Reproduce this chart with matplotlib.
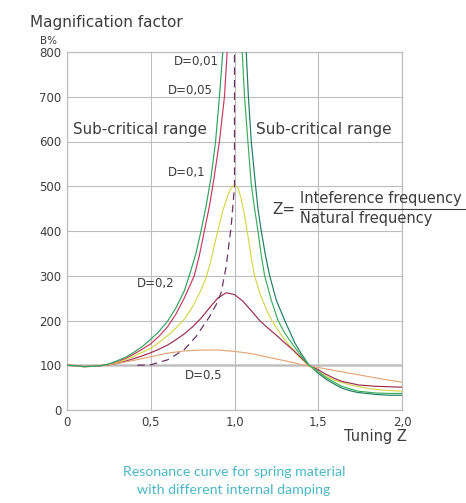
import matplotlib
matplotlib.use("Agg")
import matplotlib.pyplot as plt

plt.rcParams['font.family'] = ['DejaVu Sans']

# Tuning Z and magnification factor (B %) for each damping value D
z_d001_up = [0.0, 0.05, 0.1, 0.15, 0.2, 0.25, 0.3, 0.35, 0.4, 0.45, 0.5, 0.55, 0.6, 0.65, 0.7, 0.73,
             0.77, 0.8, 0.83, 0.86, 0.887, 0.91, 0.93]
b_d001_up = [100, 99, 97, 97.5, 99, 103, 110, 118, 129, 142, 158, 176, 198, 228, 266, 300,
             350, 400, 455, 520, 600, 700, 800]
z_d001_down = [1.046, 1.06, 1.08, 1.10, 1.12, 1.14, 1.16, 1.18, 1.22, 1.26, 1.30, 1.35, 1.40, 1.445,
               1.5, 1.545, 1.6, 1.64, 1.7, 1.74, 1.84, 1.92, 2.0]
b_d001_down = [800, 700, 600, 504, 450, 400, 345, 300, 245, 200, 172, 145, 120, 100,
               86, 73, 61, 53, 46, 42, 38, 37, 37]

z_d005_up = [0.0, 0.05, 0.1, 0.15, 0.2, 0.25, 0.3, 0.35, 0.4, 0.45, 0.5, 0.55, 0.6, 0.65, 0.7, 0.76,
             0.79, 0.82, 0.85, 0.877, 0.91, 0.94, 0.956]
b_d005_up = [100, 99, 97, 97.5, 99, 102, 108, 115, 125, 136, 148, 165, 186, 214, 250, 300,
             345, 400, 455, 516, 600, 700, 800]
z_d005_down = [1.07, 1.083, 1.10, 1.125, 1.14, 1.16, 1.185, 1.21, 1.25, 1.30, 1.36, 1.40, 1.445,
               1.5, 1.55, 1.6, 1.64, 1.7, 1.74, 1.84, 1.92, 2.0]
b_d005_down = [800, 700, 600, 504, 450, 400, 345, 300, 245, 200, 150, 125, 100,
               82, 68, 57, 49, 42, 39, 35, 33, 33]

z_d01 = [0.0, 0.05, 0.1, 0.15, 0.2, 0.25, 0.3, 0.35, 0.4, 0.45, 0.5, 0.55, 0.6, 0.65, 0.7, 0.74,
         0.77, 0.8, 0.83, 0.86, 0.88, 0.9, 0.93, 0.96, 0.98, 1.0, 1.02, 1.04, 1.06, 1.08, 1.10,
         1.12, 1.15, 1.19, 1.22, 1.26, 1.30, 1.37, 1.44, 1.5, 1.55, 1.6, 1.7, 1.8, 1.9, 2.0]
b_d01 = [100, 99, 97, 97.5, 99, 101, 106, 112, 120, 129, 138, 151, 166, 183, 203, 225,
         245, 268, 295, 335, 368, 400, 445, 480, 496, 502, 497, 472, 435, 390, 340,
         300, 262, 225, 202, 178, 157, 125, 100, 86, 75, 66, 55, 48, 44, 42]

z_d02 = [0.0, 0.05, 0.1, 0.15, 0.2, 0.25, 0.3, 0.35, 0.4, 0.45, 0.5, 0.55, 0.6, 0.65, 0.7, 0.75,
         0.8, 0.85, 0.9, 0.95, 1.0, 1.05, 1.1, 1.15, 1.2, 1.25, 1.3, 1.35, 1.4, 1.445, 1.5, 1.545,
         1.6, 1.64, 1.74, 1.84, 1.92, 2.0]
b_d02 = [100, 99, 97, 97.5, 99, 101, 104, 109, 115, 121, 128, 136, 145, 157, 170, 186,
         205, 228, 250, 262, 258, 243, 222, 200, 183, 167, 150, 134, 116, 100, 90, 80,
         70, 64, 56, 53, 52, 51]

z_d05 = [0.0, 0.05, 0.1, 0.15, 0.2, 0.25, 0.3, 0.4, 0.5, 0.6, 0.7, 0.8, 0.9, 1.0, 1.1, 1.2, 1.3,
         1.42, 1.5, 1.6, 1.75, 1.9, 2.0]
b_d05 = [100, 99, 97, 97.5, 99, 101, 104, 111, 119, 127, 132, 134, 134, 131, 126, 118, 110,
         100, 95, 88, 78, 68, 62]

# Locus of the resonance peaks
z_peak = [0.42, 0.5, 0.6, 0.7, 0.77, 0.85, 0.89, 0.92, 0.95, 0.98, 1.0, 1.0]
b_peak = [100, 101, 112, 135, 164, 208, 235, 262, 320, 410, 500, 800]

x_ticks = [0, 0.5, 1.0, 1.5, 2.0]
x_tick_labels = ["0", "0,5", "1,0", "1,5", "2,0"]
y_ticks = [0, 100, 200, 300, 400, 500, 600, 700, 800]

W, H = 466, 503
fig = plt.figure(figsize=(W / 100, H / 100), dpi=100)
ax = fig.add_axes([67 / W, 1 - 410 / H, (402 - 67) / W, (410 - 52) / H])

grid_col = "#bdbdbd"
text_col = "#3d3d3d"

ax.set_xlim(0, 2.0)
ax.set_ylim(0, 800)
ax.set_xticks(x_ticks)
ax.set_xticklabels(x_tick_labels)
ax.set_yticks(y_ticks)
ax.tick_params(length=0, labelsize=8.5, colors=text_col, pad=4)
ax.grid(True, color=grid_col, lw=0.8)
for s in ax.spines.values():
    s.set_color(grid_col)
    s.set_linewidth(0.9)
ax.axhline(100, color="#222222", lw=1.0, zorder=1)

lw = 0.85
ax.plot(z_d001_up, b_d001_up, color="#2fa35e", lw=lw, zorder=4)
ax.plot(z_d001_down, b_d001_down, color="#3aae5c", lw=lw, zorder=4)
ax.plot(z_d005_up, b_d005_up, color="#c43a5e", lw=lw, zorder=3)
ax.plot(z_d005_down, b_d005_down, color="#1f7d62", lw=lw, zorder=3)
ax.plot(z_d01, b_d01, color="#d6d64e", lw=lw, zorder=3)
ax.plot(z_d02, b_d02, color="#9a2d4e", lw=lw, zorder=3)
ax.plot(z_d05, b_d05, color="#e2a678", lw=lw, zorder=3)
ax.plot(z_peak, b_peak, color="#6b3465", lw=0.9, ls=(0, (6, 4)), zorder=3)

# Text annotations
ax.text(0.036, 626, "Sub-critical range", fontsize=10.9, color=text_col, va="center")
ax.text(1.13, 626, "Sub-critical range", fontsize=11, color=text_col, va="center")
ax.text(0.64, 778, "D=0,01", fontsize=8.5, color=text_col, va="center")
ax.text(0.603, 715, "D=0,05", fontsize=8.5, color=text_col, va="center")
ax.text(0.603, 530, "D=0,1", fontsize=8.5, color=text_col, va="center")
ax.text(0.418, 282, "D=0,2", fontsize=8.5, color=text_col, va="center")
ax.text(0.705, 78, "D=0,5", fontsize=8.5, color=text_col, va="center")

fig.text(30 / W, 1 - 23 / H, "Magnification factor", fontsize=11, color=text_col, va="center")
fig.text(40 / W, 1 - 41 / H, "B%", fontsize=7.5, color=text_col, va="center")
fig.text(407 / W, 1 - 436 / H, "Tuning Z", fontsize=10.5, color=text_col, va="center", ha="right")

fig.text(272 / W, 1 - 210 / H, "Z=", fontsize=11, color=text_col, va="center")
fig.text(300 / W, 1 - 199 / H, "Inteference frequency", fontsize=10.5, color=text_col, va="center")
fig.text(300 / W, 1 - 219 / H, "Natural frequency", fontsize=10.5, color=text_col, va="center")
fig.add_artist(plt.Line2D([300 / W, 466 / W], [1 - 208.5 / H, 1 - 208.5 / H], color=text_col, lw=0.8))

cap_col = "#4cb7c6"
fig.text(234 / W, 1 - 472 / H, "Resonance curve for spring material", fontsize=10.2, color=cap_col,
         ha="center", va="center", family=["Lato", "DejaVu Sans"])
fig.text(234 / W, 1 - 490 / H, "with different internal damping", fontsize=10.2, color=cap_col,
         ha="center", va="center", family=["Lato", "DejaVu Sans"])

fig.savefig("out.png", dpi=100, facecolor="white")
